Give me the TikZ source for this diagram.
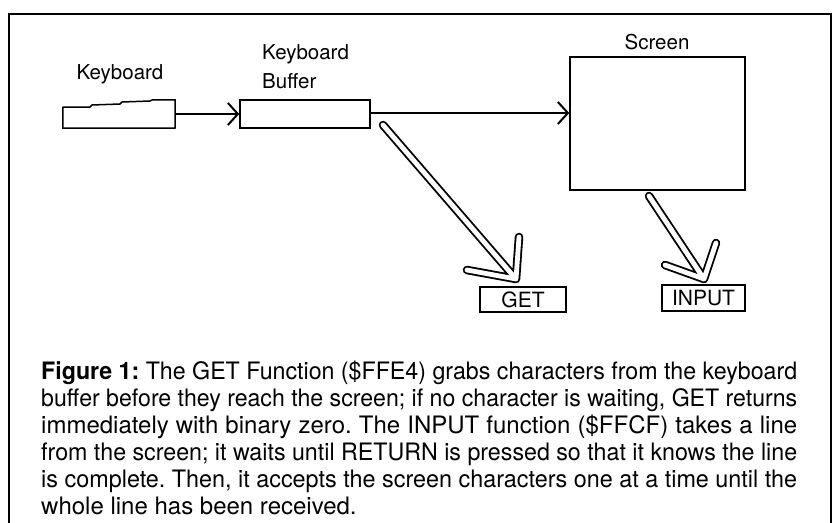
\documentclass[tikz,border=0pt]{standalone}
\usepackage{fontspec}
\setmainfont{TeX Gyre Heros}
\usetikzlibrary{arrows.meta}
\frenchspacing

% caption lines: squeeze a line that is too long, spread one that is too short
\newlength\capw
\setlength\capw{756pt}
\newsavebox\linebox
\newcommand\fitline[1]{%
  \sbox\linebox{#1}%
  \ifdim\wd\linebox>\capw
    \scalebox{\fpeval{\the\capw/\the\wd\linebox}}[1]{\usebox\linebox}%
  \else
    \makebox[\capw][s]{#1}%
  \fi}

% double-walled (hollow) arrow: tail, tip, barb 1, barb 2
\newcommand\hollowarrow[4]{%
  \draw[line width=8.5pt, line cap=round, line join=round] (#1) -- (#2) (#3) -- (#2) -- (#4);
  \draw[white, line width=4.8pt, line cap=round, line join=round] (#1) -- (#2) (#3) -- (#2) -- (#4);}

\tikzset{
  box/.style={draw, line width=1.5pt, inner sep=0pt, rectangle},
  lbl/.style={font=\fontsize{20.5}{24}\selectfont, inner sep=0pt},
  tag/.style={box, font=\fontsize{21}{24}\selectfont},
  flow/.style={line width=2.2pt, -{Straight Barb[length=10pt,width=22pt,line width=2pt]}},
  captext/.style={anchor=base west, inner sep=0pt, font=\fontsize{24}{28}\selectfont}
}

\begin{document}
\begin{tikzpicture}[x=1pt,y=-1pt]
\useasboundingbox (0,0) rectangle (835,522);
\fill[white] (0,0) rectangle (835,522);
\clip (0,0) rectangle (835,522);

% outer frame, open at the bottom edge of the page
\draw[line width=2pt] (9,530) -- (9,14) -- (831,14) -- (831,530);

% labels
\node[lbl, anchor=base] (kblbl) at (120,79) {Keyboard};
\node[lbl, anchor=base west] (buflbl1) at (262,59) {Keyboard};
\node[lbl, anchor=base west] (buflbl2) at (262,88) {Buffer};
\node[lbl, anchor=base] (scrlbl) at (657,49) {Screen};

% keyboard (outline with a stepped top edge)
\node[minimum width=112pt, minimum height=28pt, inner sep=0pt] (kb) at (119,114) {};
\draw[line width=1.5pt, line join=round]
  (kb.south west) -- (63,107) -- (90,107) -- (92,105) -- (120,104) -- (122,102)
  -- (150,101) -- (152,100) -- (kb.north east) -- (kb.south east) -- cycle;

% keyboard buffer and screen
\node[box, minimum width=130pt, minimum height=28pt] (buf) at (305,114) {};
\node[box, minimum width=175pt, minimum height=133pt] (scr) at (657.5,123.5) {};

% GET and INPUT
\node[tag, minimum width=86pt, minimum height=25pt] (get) at (523,299.5) {GET};
\node[tag, minimum width=83pt, minimum height=26pt] (inp) at (703.5,298) {INPUT};

% data flow
\draw[flow] (kb) -- (buf);
\draw[flow] (buf.east |- 0,113) -- (scr.west |- 0,113);

% hollow arrows
\coordinate (gtail) at (383,125);
\coordinate (gtip) at (516,279);
\coordinate (gb1) at (519,237);
\coordinate (gb2) at (467,270);
\hollowarrow{gtail}{gtip}{gb1}{gb2}
\coordinate (itail) at (649,196);
\coordinate (itip) at (704,279);
\coordinate (ib1) at (716,243);
\coordinate (ib2) at (665,265);
\hollowarrow{itail}{itip}{ib1}{ib2}

% caption
\node[captext] (c1) at (41,379) {\fitline{\textbf{Figure 1:} The GET Function (\$FFE4) grabs characters from the keyboard}};
\node[captext] (c2) at (41,406) {\fitline{buffer before they reach the screen; if no character is waiting, GET returns}};
\node[captext] (c3) at (41,433) {\fitline{immediately with binary zero. The INPUT function (\$FFCF) takes a line}};
\node[captext] (c4) at (41,460) {\fitline{from the screen; it waits until RETURN is pressed so that it knows the line}};
\node[captext] (c5) at (41,487) {\fitline{is complete. Then, it accepts the screen characters one at a time until the}};
\node[captext] (c6) at (41,514) {whole line has been received.};
\end{tikzpicture}
\end{document}
